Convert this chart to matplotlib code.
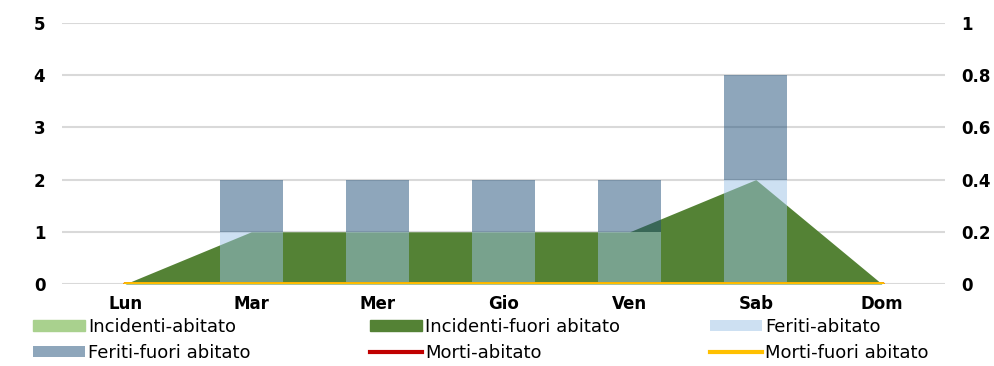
import matplotlib
matplotlib.use("Agg")
import matplotlib.pyplot as plt
from matplotlib.patches import Patch
from matplotlib.lines import Line2D
import numpy as np

giorni = ["Lun", "Mar", "Mer", "Gio", "Ven", "Sab", "Dom"]
incidenti_abitato = [0, 0, 0, 0, 0, 0, 0]
incidenti_fuori = [0, 1, 1, 1, 1, 2, 0]
feriti_abitato = [0, 1, 1, 1, 1, 2, 0]
feriti_fuori = [0, 1, 1, 1, 1, 2, 0]
morti_abitato = [0, 0, 0, 0, 0, 0, 0]
morti_fuori = [0, 0, 0, 0, 0, 0, 0]

c_inc_ab = "#A9D18E"
c_inc_fu = "#548235"
c_fer_ab = "#9DC3E6"
c_fer_fu = "#1F4E79"
c_mor_ab = "#C00000"
c_mor_fu = "#FFC000"

plt.rcParams["font.family"] = "DejaVu Sans"

fig = plt.figure(figsize=(9.95, 3.66), dpi=100)
ax = fig.add_axes([62 / 995, 82 / 366, 883 / 995, 261 / 366])
ax2 = ax.twinx()

x = np.arange(len(giorni))

# aree (incidenti)
ax.fill_between(x, 0, incidenti_fuori, color=c_inc_fu, lw=0, zorder=2)
ax.fill_between(x, incidenti_fuori,
                np.add(incidenti_fuori, incidenti_abitato),
                color=c_inc_ab, lw=0, zorder=2)

# barre (feriti), sovrapposte con trasparenza
ax.bar(x, feriti_abitato, width=0.5, color=c_fer_ab, alpha=0.5, zorder=3)
ax.bar(x, feriti_fuori, width=0.5, bottom=feriti_abitato,
       color=c_fer_fu, alpha=0.5, zorder=3)

# linee (morti) sull'asse secondario
ax2.plot(x, morti_abitato, color=c_mor_ab, lw=3.5, solid_capstyle="round")
ax2.plot(x, morti_fuori, color=c_mor_fu, lw=3.5, solid_capstyle="round")

ax.set_xlim(-0.5, len(giorni) - 0.5)
ax.set_ylim(0, 5)
ax2.set_ylim(0, 1)
ax.set_yticks(range(6))
ax2.set_yticks([0, 0.2, 0.4, 0.6, 0.8, 1])
ax2.set_yticklabels(["0", "0.2", "0.4", "0.6", "0.8", "1"])
ax.set_xticks(x)
ax.set_xticklabels(giorni)

ax.grid(axis="y", color="#D9D9D9", lw=1.5, zorder=0)
ax.set_axisbelow(True)
for a in (ax, ax2):
    for s in a.spines.values():
        s.set_visible(False)
    a.tick_params(length=0, labelsize=12)
    for lab in a.get_xticklabels() + a.get_yticklabels():
        lab.set_fontweight("bold")
ax.tick_params(axis="y", pad=12)
ax2.tick_params(axis="y", pad=12)
ax.tick_params(axis="x", pad=8)

# legenda: tre colonne separate, due voci ciascuna
colonne = [
    ([Patch(color=c_inc_ab, label="Incidenti-abitato"),
      Patch(color=c_fer_fu, alpha=0.5, lw=0, label="Feriti-fuori abitato")], 33),
    ([Patch(color=c_inc_fu, label="Incidenti-fuori abitato"),
      Line2D([], [], color=c_mor_ab, lw=3, label="Morti-abitato")], 370),
    ([Patch(color=c_fer_ab, alpha=0.5, lw=0, label="Feriti-abitato"),
      Line2D([], [], color=c_mor_fu, lw=3, label="Morti-fuori abitato")], 710),
]
for h, xpix in colonne:
    fig.legend(handles=h, loc="upper left",
               bbox_to_anchor=(xpix / 995, 1 - 318 / 366),
               frameon=False, fontsize=13, handlelength=2.9,
               handleheight=0.6, handletextpad=0.17, labelspacing=0.45,
               borderaxespad=0, borderpad=0)

fig.savefig("out.png", dpi=100)
